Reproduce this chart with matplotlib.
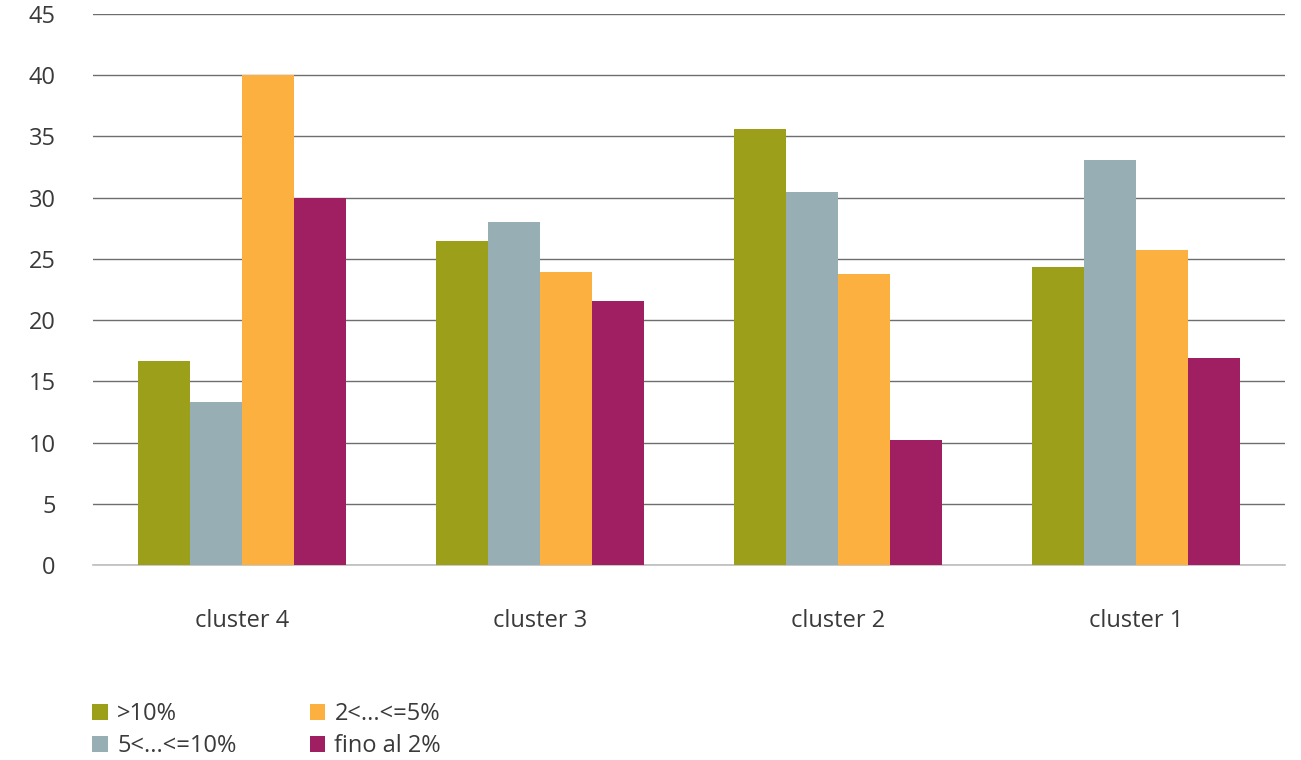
import numpy as np
import matplotlib
matplotlib.use("Agg")
import matplotlib.pyplot as plt
from matplotlib.patches import Patch

# dati
clusters = ["cluster 4", "cluster 3", "cluster 2", "cluster 1"]
series_names = [">10%", "5<...<=10%", "2<...<=5%", "fino al 2%"]
v_over10 = [16.7, 26.5, 35.6, 24.35]
v_5_10 = [13.3, 28.0, 30.5, 33.1]
v_2_5 = [40.0, 23.9, 23.75, 25.7]
v_upto2 = [30.0, 21.6, 10.2, 16.9]
colors = ["#9C9F1A", "#97AFB4", "#FBB040", "#A01F62"]

plt.rcParams["font.family"] = ["Open Sans", "DejaVu Sans"]
plt.rcParams["font.size"] = 17
text_color = "#3a3a3a"

fig = plt.figure(figsize=(13.01, 7.6), dpi=100)
ax = fig.add_axes([93 / 1301, 1 - 565 / 760, 1192 / 1301, 551 / 760])

x = np.arange(len(clusters))
w = 0.175
values = [v_over10, v_5_10, v_2_5, v_upto2]
for i, (vals, col) in enumerate(zip(values, colors)):
    ax.bar(x + (i - 1.5) * w, vals, width=w, color=col, zorder=3)

ax.set_xlim(-0.5, 3.5)
ax.set_ylim(0, 45)
ax.set_yticks(range(0, 46, 5))
ax.yaxis.grid(True, color="#6e6e6e", linewidth=1.0, zorder=0)
ax.set_axisbelow(True)
for s in ["top", "right", "left"]:
    ax.spines[s].set_visible(False)
ax.spines["bottom"].set_color("#bdbdbd")
ax.spines["bottom"].set_linewidth(1.2)
ax.tick_params(axis="both", length=0, colors=text_color, labelsize=17)
ax.tick_params(axis="y", pad=27)
ax.tick_params(axis="x", pad=32)
ax.set_xticks(x)
ax.set_xticklabels(clusters)

handles = [Patch(facecolor=c, edgecolor="none") for c in colors]
fig.legend(handles, series_names, loc="upper left", bbox_to_anchor=(71 / 1301, 1 - 681 / 760),
           ncol=2, frameon=False, fontsize=17, handlelength=0.65, handleheight=0.65,
           handletextpad=0.4, columnspacing=3.1, labelspacing=0.33, labelcolor=text_color)

fig.savefig("out.png", dpi=100)
plt.close()
